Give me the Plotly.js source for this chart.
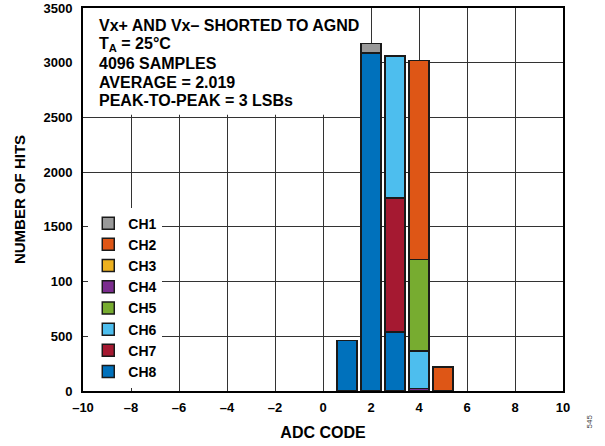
<!DOCTYPE html>
<html>
<head>
<meta charset="utf-8">
<script src="https://cdn.plot.ly/plotly-3.0.1.min.js"></script>
<style>html,body{margin:0;padding:0;background:#fff}#chart{width:605px;height:446px}</style>
</head>
<body>
<div id="chart"></div>
<script>
// ---- data ----
const adcCodes = [1, 2, 3, 4, 5];
const ch1 = [null, 85, null, null, null];
const ch2 = [null, null, null, 1815, 219];
const ch3 = [null, null, null, null, null];
const ch4 = [null, null, null, 22, null];
const ch5 = [null, null, null, 838, null];
const ch6 = [null, null, 1298, 343, null];
const ch7 = [null, null, 1224, null, null];
const ch8 = [463, 3090, 540, null, null];
const xTickVals = [-10, -8, -6, -4, -2, 0, 2, 4, 6, 8, 10];
const xTickText = ['–10', '–8', '–6', '–4', '–2', '0', '2', '4', '6', '8', '10'];
const yTickVals = [0, 500, 1000, 1500, 2000, 2500, 3000, 3500];
const yTickText = ['0', '500', '100', '1500', '2000', '2500', '3000', '3500'];
const infoLines = ['Vx+ AND Vx– SHORTED TO AGND', 'T<sub>A</sub> = 25°C', '4096 SAMPLES', 'AVERAGE = 2.019', 'PEAK-TO-PEAK = 3 LSBs'];

const FONT = 'Liberation Sans, Arial, sans-serif';
const outline = {color: '#1a1a1a', width: 1.5};

// stacking order bottom -> top
const series = [
  {name: 'CH8', y: ch8, color: '#0071BC', rank: 8},
  {name: 'CH7', y: ch7, color: '#A51931', rank: 7},
  {name: 'CH4', y: ch4, color: '#7B2C8E', rank: 4},
  {name: 'CH6', y: ch6, color: '#4DBEEE', rank: 6},
  {name: 'CH5', y: ch5, color: '#77AC30', rank: 5},
  {name: 'CH3', y: ch3, color: '#EDB120', rank: 3},
  {name: 'CH2', y: ch2, color: '#DE5616', rank: 2},
  {name: 'CH1', y: ch1, color: '#999999', rank: 1}
];

const traces = series.map(s => ({
  type: 'bar', x: adcCodes, y: s.y, name: s.name,
  legendrank: s.rank, legendgroup: s.name,
  width: 0.82,
  marker: {color: s.color, line: outline},
  hoverinfo: 'skip'
}));

const PLOT_H = 383;
const annotations = infoLines.map((t, i) => ({
  xref: 'paper', yref: 'paper', x: 0.03, y: 1 - (25.8 + i * 18.75 - 8) / PLOT_H,
  xanchor: 'left', yanchor: 'middle', showarrow: false,
  text: t, font: {family: FONT, size: 16, color: '#000', weight: 'bold'}
}));
annotations.push({
  xref: 'paper', yref: 'paper', x: 1, y: 0, xshift: 32, yshift: -40,
  showarrow: false, text: '545', textangle: -90,
  font: {family: FONT, size: 8, color: '#444'}
});

const layout = {
  width: 605, height: 446,
  margin: {l: 83, r: 42, t: 8, b: 55},
  paper_bgcolor: '#fff', plot_bgcolor: '#fff',
  barmode: 'stack',
  font: {family: FONT, color: '#000'},
  showlegend: true,
  legend: {
    x: 0.011, y: 0.479, xanchor: 'left', yanchor: 'top',
    bgcolor: '#fff', borderwidth: 0,
    font: {family: FONT, size: 14, weight: 'bold', color: '#000'},
    tracegroupgap: 0, itemwidth: 30
  },
  xaxis: {
    range: [-10, 10], tickvals: xTickVals, ticktext: xTickText,
    showgrid: true, gridcolor: '#333', gridwidth: 1,
    zeroline: false, showline: true, linecolor: '#000', linewidth: 2, mirror: true,
    ticks: '', ticklabelstandoff: 3, tickfont: {family: FONT, size: 13, weight: 'bold'},
    title: {text: 'ADC CODE', font: {family: FONT, size: 16, weight: 'bold'}, standoff: 13}
  },
  yaxis: {
    range: [0, 3500], tickvals: yTickVals, ticktext: yTickText,
    showgrid: true, gridcolor: '#333', gridwidth: 1,
    zeroline: false, showline: true, linecolor: '#000', linewidth: 2, mirror: true,
    ticks: '', ticklabelstandoff: 6, tickfont: {family: FONT, size: 13, weight: 'bold'},
    title: {text: 'NUMBER OF HITS', font: {family: FONT, size: 15, weight: 'bold'}, standoff: 14}
  },
  shapes: [{
    type: 'rect', layer: 'between', xref: 'x', yref: 'y',
    x0: -10, x1: 1.8, y0: 2525, y1: 3500,
    fillcolor: '#fff', line: {width: 0}
  }],
  annotations: annotations
};

Plotly.newPlot('chart', traces, layout, {staticPlot: true});
</script>
</body>
</html>
